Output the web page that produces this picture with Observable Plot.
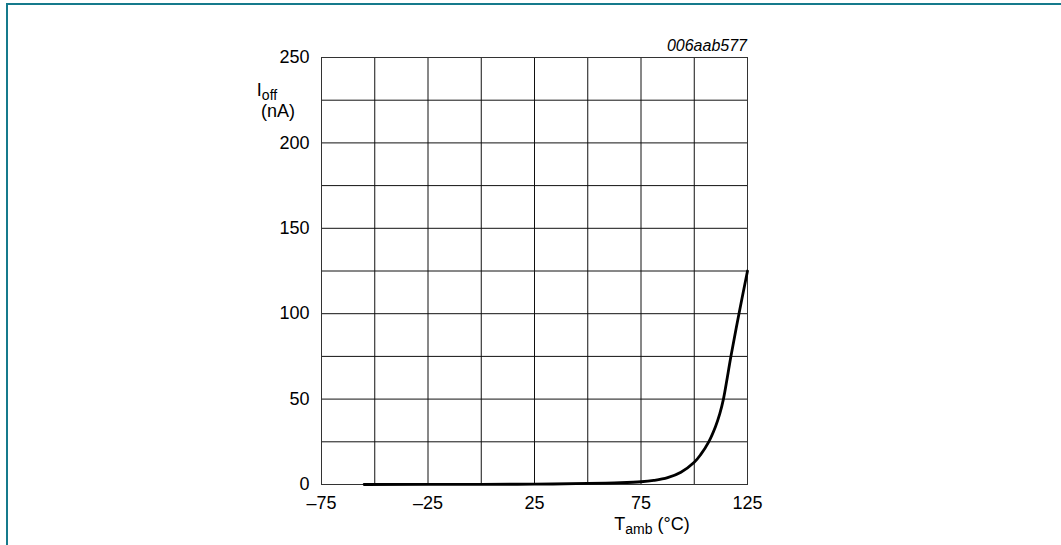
<!DOCTYPE html>
<html>
<head>
<meta charset="utf-8">
<script src="https://cdn.jsdelivr.net/npm/d3@7"></script>
<script src="https://cdn.jsdelivr.net/npm/@observablehq/plot@0.6"></script>
<style>
  html, body { margin: 0; padding: 0; background: #fff; }
  #wrap { position: relative; width: 1061px; height: 545px; overflow: hidden; }
  #frame { position: absolute; left: 6px; top: 3px; width: 1060px; height: 560px;
           border-top: 2px solid #157a8c; border-left: 2px solid #157a8c; box-sizing: border-box; }
  #chart { position: absolute; left: 0; top: 0; }
</style>
</head>
<body>
<div id="wrap"><div id="frame"></div><div id="chart"></div></div>
<script>
// Data
const temperature = [-55, 0, 25, 50, 62.5, 75, 81, 87.5, 93.75, 100, 103, 106.8, 110, 112, 113.7, 115.5, 117.2, 121, 125];
const offCurrent  = [0, 0.1, 0.2, 0.6, 1, 1.6, 2.4, 4, 7.2, 13, 17.5, 25, 34, 41.5, 50, 62.5, 75, 100, 125];
const xTicks = [-75, -25, 25, 75, 125];
const xTickLabels = ["\u201375", "\u201325", "25", "75", "125"];
const yTicks = [0, 50, 100, 150, 200, 250];
const yTickLabels = ["0", "50", "100", "150", "200", "250"];
const xGrid = [-75, -50, -25, 0, 25, 50, 75, 100, 125];
const yGrid = [0, 25, 50, 75, 100, 125, 150, 175, 200, 225, 250];
const chartCode = "006aab577";

const data = temperature.map((t, i) => ({t, i: offCurrent[i]}));

const plot = Plot.plot({
  width: 1061,
  height: 545,
  marginLeft: 321,
  marginRight: 314,
  marginTop: 57,
  marginBottom: 61,
  style: {fontFamily: "'Liberation Sans', Arial, Helvetica, sans-serif", fontSize: "18px", color: "#000", background: "transparent"},
  x: {domain: [-75, 125]},
  y: {domain: [0, 250]},
  marks: [
    Plot.gridX(xGrid, {stroke: "#111", strokeOpacity: 1, strokeWidth: 1}),
    Plot.gridY(yGrid, {stroke: "#111", strokeOpacity: 1, strokeWidth: 1}),
    Plot.frame({stroke: "#333", strokeWidth: 1}),
    Plot.axisX(xTicks, {tickSize: 0, tickPadding: 12, tickFormat: d => xTickLabels[xTicks.indexOf(d)], label: null, fontSize: 18}),
    Plot.axisY(yTicks, {tickSize: 0, tickPadding: 12, tickFormat: d => yTickLabels[yTicks.indexOf(d)], label: null, fontSize: 18}),
    Plot.line(data, {x: "t", y: "i", stroke: "#000", strokeWidth: 2.8, curve: "catmull-rom"})
  ]
});

document.getElementById("chart").appendChild(plot);

const svg = d3.select(plot);
const xs = plot.scale("x"), ys = plot.scale("y");
const font = "'Liberation Sans', Arial, Helvetica, sans-serif";

// Chart code (top right, italic)
svg.append("text")
  .attr("x", xs.apply(125)).attr("y", ys.apply(250) - 6)
  .attr("text-anchor", "end")
  .attr("font-family", font).attr("font-style", "italic").attr("font-size", 16)
  .text(chartCode);

// Y axis title: I_off (nA)
const yt = svg.append("text")
  .attr("x", 267).attr("y", 96)
  .attr("font-family", font).attr("font-size", 18);
yt.append("tspan").text("I");
yt.append("tspan").attr("font-size", 14).attr("dy", 4).text("off");
svg.append("text")
  .attr("x", 278).attr("y", 117).attr("text-anchor", "middle")
  .attr("font-family", font).attr("font-size", 18)
  .text("(nA)");

// X axis title: T_amb (°C)
const xt = svg.append("text")
  .attr("x", 652).attr("y", 529.5)
  .attr("font-family", font).attr("font-size", 18);
xt.append("tspan").text("T");
xt.append("tspan").attr("font-size", 14).attr("dy", 4).text("amb");
xt.append("tspan").attr("dy", -4).text(" (\u00B0C)");
</script>
</body>
</html>
